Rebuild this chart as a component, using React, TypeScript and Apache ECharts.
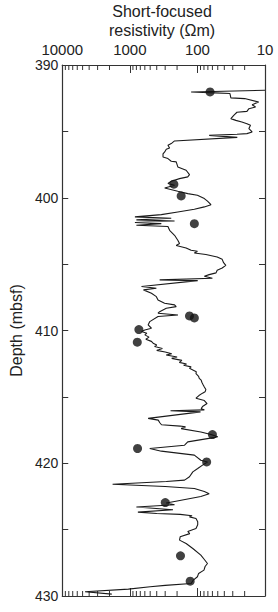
import React, { useEffect, useRef } from 'react';
import * as echarts from 'echarts';

// Short-focused resistivity log (depth in mbsf, resistivity in Ωm)
const logDepth = [
  391.9, 392.03, 392.1, 392.15, 392.48, 392.53, 392.79, 392.99, 393.16, 393.29,
  393.49, 393.56, 393.79, 394.04, 394.17, 394.29, 394.42, 394.54, 394.79, 395.04,
  395.17, 395.22, 395.3, 395.45, 395.72, 395.92, 396.05, 396.25, 396.35, 396.55,
  396.7, 396.93, 397.05, 397.25, 397.3, 397.68, 397.93, 398.26, 398.43, 398.56,
  398.76, 398.93, 399.06, 399.26, 399.51, 399.69, 399.81, 400.06, 400.26, 400.52,
  400.69, 400.87, 401.07, 401.27, 401.44, 401.54, 401.67, 401.75, 401.87, 401.95,
  402.07, 402.17, 402.45, 402.83, 403.2, 403.45, 403.6, 403.78, 403.96, 404.03,
  404.16, 404.28, 404.46, 404.64, 404.89, 405.09, 405.29, 405.46, 405.66, 405.79,
  405.92, 406.06, 406.19, 406.24, 406.69, 406.82, 406.94, 407.19, 407.45, 407.7,
  407.95, 408.07, 408.2, 408.32, 408.58, 408.7, 408.83, 408.95, 409.33, 409.58,
  409.83, 409.96, 410.08, 410.2, 410.33, 410.5, 410.66, 410.82, 410.96, 411.1,
  411.21, 411.35, 411.5, 411.62, 411.75, 411.85, 411.99, 412.1, 412.25, 412.4,
  412.52, 412.62, 412.74, 412.85, 412.99, 413.1, 413.25, 413.45, 413.6, 413.74,
  413.9, 414.1, 414.25, 414.45, 414.62, 414.72, 414.9, 415.1, 415.28, 415.5,
  415.73, 415.88, 415.98, 416.05, 416.13, 416.62, 416.75, 416.95, 417.1, 417.2,
  417.26, 417.39, 417.64, 417.84, 418.01, 418.05, 418.39, 418.64, 418.89, 419.09,
  419.39, 419.77, 419.9, 420.14, 420.4, 420.65, 421.02, 421.27, 421.38, 421.58,
  421.75, 421.9, 422.13, 422.3, 422.5, 422.88, 423.0, 423.13, 423.3, 423.5,
  423.68, 423.78, 423.85, 423.95, 424.04, 424.16, 424.41, 424.64, 424.92, 425.14,
  425.3, 425.54, 425.79, 426.05, 426.42, 426.92, 427.25, 427.55, 427.78, 428.05,
  428.3, 428.55, 428.8, 429.06, 429.2, 429.3, 429.48, 429.68, 429.86
];
const logResistivity = [
  10, 124, 55, 33, 32, 20, 12.4, 15.5, 13.8, 17.3,
  18.5, 26, 29, 32, 27, 22, 18.5, 16.4, 17.3, 15.5,
  18.5, 26, 67, 25.7, 218, 244, 273, 258, 289, 305,
  323, 323, 273, 244, 206, 195, 147, 131, 139, 184,
  244, 273, 218, 305, 195, 139, 100, 79, 71, 63,
  79, 111, 195, 342, 841, 244, 800, 218, 841, 342,
  800, 273, 258, 218, 195, 184, 206, 147, 124, 100,
  111, 75, 51, 43, 41, 38, 43, 51, 53, 67,
  79, 60, 362, 99, 672, 405, 628, 479, 405, 383,
  306, 218, 206, 289, 362, 383, 194, 383, 507, 536,
  479, 600, 672, 560, 600, 520, 580, 480, 452, 400,
  430, 330, 400, 300, 240, 290, 200, 240, 170, 185,
  145, 160, 124, 131, 115, 104, 105, 96, 94, 88,
  86, 82, 79, 75, 77, 84, 95, 105, 79, 72,
  84, 88, 79, 250, 90, 536, 380, 360, 340, 180,
  150, 174, 89, 63, 50, 55, 139, 155, 507, 342,
  111, 89, 71, 84, 99, 117, 131, 155, 289, 1800,
  300, 111, 79, 67, 89, 218, 290, 218, 800, 230,
  760, 400, 180, 120, 131, 105, 99, 99, 105, 139,
  130, 180, 184, 147, 117, 89, 79, 71, 77, 80,
  96, 100, 115, 124, 300, 500, 1050, 4600, 1850
];

// Discrete samples (dots)
const sampleDepth = [392.03, 398.98, 399.86, 401.95, 408.9, 409.05, 409.93, 410.88, 417.84, 418.89, 419.9, 422.96, 426.97, 428.88];
const sampleResistivity = [65, 223, 174, 111, 131, 111, 735, 776, 60, 769, 73, 299, 178, 128];

// Axis settings
const resistivityMin = 10;
const resistivityMax = 10000;
const minorTickValues = [
  2000, 3000, 4000, 5000, 6000, 7000, 8000, 9000,
  200, 300, 400, 500, 600, 700, 800, 900,
  20, 30, 40, 50, 60, 70, 80, 90
];
const depthMin = 390;
const depthMax = 430;
const depthTickStep = 5;
const depthLabelStep = 10;

const FONT = 'Liberation Sans, Arial, Helvetica, sans-serif';
const INK = '#222';

export default function App() {
  const ref = useRef<HTMLDivElement>(null);

  useEffect(() => {
    if (!ref.current) return;
    const chart = echarts.init(ref.current, null, { renderer: 'svg' });

    const xCommon: any = {
      type: 'log',
      logBase: 10,
      min: resistivityMin,
      max: resistivityMax,
      inverse: true,
      splitLine: { show: false },
      axisLine: { show: true, lineStyle: { color: '#333', width: 1.2 } },
      axisTick: { show: true, inside: true, length: 8, lineStyle: { color: '#333', width: 1 } },
      minorTick: { show: false },
    };
    const yCommon: any = {
      type: 'value',
      inverse: true,
      min: depthMin,
      max: depthMax,
      interval: depthTickStep,
      splitLine: { show: false },
      axisLine: { show: true, lineStyle: { color: '#333', width: 1.2 } },
      axisTick: { show: true, inside: true, length: 6, lineStyle: { color: '#333', width: 1 } },
    };

    chart.setOption({
      animation: false,
      backgroundColor: '#fff',
      title: {
        text: 'Short-focused\nresistivity (Ωm)',
        left: 162,
        top: 2,
        padding: 0,
        textAlign: 'center',
        textStyle: { fontSize: 16, fontWeight: 'normal', color: INK, lineHeight: 19, fontFamily: FONT },
      },
      grid: { left: 60, right: 13, top: 65, bottom: 16 },
      xAxis: [
        {
          ...xCommon,
          position: 'top',
          axisLabel: {
            show: true,
            margin: 8,
            fontSize: 15,
            color: INK,
            fontFamily: FONT,
            formatter: (v: number) => String(Math.round(v)),
          },
        },
        { ...xCommon, position: 'bottom', axisLabel: { show: false } },
      ],
      yAxis: [
        {
          ...yCommon,
          position: 'left',
          name: 'Depth (mbsf)',
          nameLocation: 'middle',
          nameRotate: 90,
          nameGap: 38,
          nameTextStyle: { fontSize: 16, color: INK, fontFamily: FONT },
          axisLabel: {
            margin: 4,
            fontSize: 14,
            color: INK,
            fontFamily: FONT,
            formatter: (v: number) => (v % depthLabelStep === 0 ? String(v) : ''),
          },
        },
        { ...yCommon, position: 'right', axisLabel: { show: false } },
      ],
      series: [
        {
          type: 'line',
          xAxisIndex: 0,
          yAxisIndex: 0,
          data: logDepth.map((d, i) => [logResistivity[i], d]),
          showSymbol: false,
          symbol: 'none',
          lineStyle: { color: '#1a1a1a', width: 1.1 },
          z: 2,
        },
        {
          type: 'scatter',
          xAxisIndex: 0,
          yAxisIndex: 0,
          data: sampleDepth.map((d, i) => [sampleResistivity[i], d]),
          symbolSize: 9,
          itemStyle: { color: '#111' },
          z: 3,
        },
        {
          type: 'custom',
          xAxisIndex: 0,
          yAxisIndex: 0,
          silent: true,
          data: minorTickValues.map((v) => [v, depthMin]),
          renderItem: (params: any, api: any) => {
            const v = api.value(0);
            const top = api.coord([v, depthMin]);
            const bot = api.coord([v, depthMax]);
            return {
              type: 'group',
              children: [
                { type: 'line', shape: { x1: top[0], y1: top[1], x2: top[0], y2: top[1] + 5 }, style: { stroke: '#333', lineWidth: 1 } },
                { type: 'line', shape: { x1: bot[0], y1: bot[1], x2: bot[0], y2: bot[1] - 5 }, style: { stroke: '#333', lineWidth: 1 } },
              ],
            };
          },
          z: 1,
        },
      ],
    });

    return () => chart.dispose();
  }, []);

  return (
    <div
      ref={ref}
      style={{ position: 'fixed', left: 0, top: 0, width: 278, height: 612, background: '#fff' }}
    />
  );
}
